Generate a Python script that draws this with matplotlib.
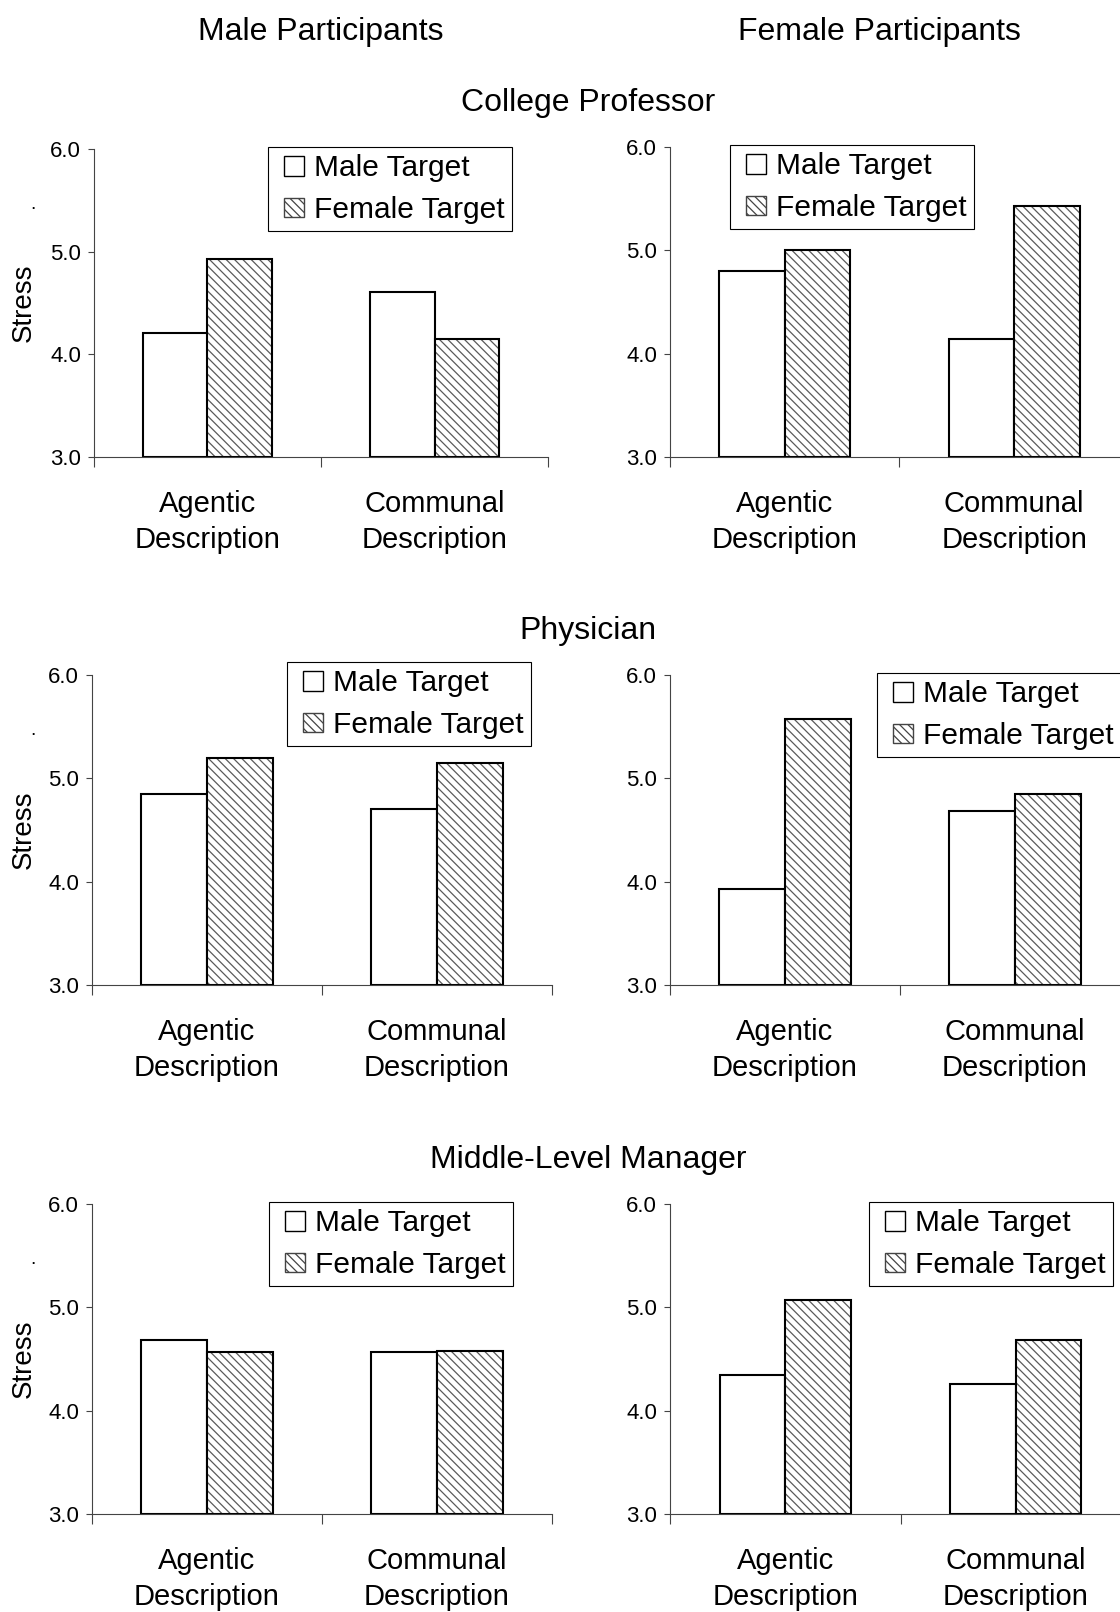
# Stress ratings by description type, target sex and participant sex

import numpy as np
import matplotlib.pyplot as plt
from matplotlib.patches import Patch, Rectangle
from matplotlib.legend_handler import HandlerPatch

plt.rcParams['font.family'] = ['Liberation Sans', 'DejaVu Sans']
plt.rcParams['hatch.linewidth'] = 0.9

# data
categories = ["Agentic\nDescription", "Communal\nDescription"]
col_titles = ["Male Participants", "Female Participants"]
row_titles = ["College Professor", "Physician", "Middle-Level Manager"]
series = ["Male Target", "Female Target"]
yticks = [3.0, 4.0, 5.0, 6.0]

prof_mp_male = [4.21, 4.61]
prof_mp_female = [4.93, 4.15]
prof_fp_male = [4.80, 4.14]
prof_fp_female = [5.00, 5.43]

phys_mp_male = [4.85, 4.70]
phys_mp_female = [5.20, 5.15]
phys_fp_male = [3.93, 4.68]
phys_fp_female = [5.57, 4.85]

mgr_mp_male = [4.68, 4.57]
mgr_mp_female = [4.57, 4.58]
mgr_fp_male = [4.35, 4.26]
mgr_fp_female = [5.07, 4.68]

W, H = 1120, 1612
fig = plt.figure(figsize=(W / 100, H / 100), dpi=100)

HATCH = '\\\\\\\\'
bw = 0.285


def square_patch(legend, orig_handle, xdescent, ydescent, width, height, fontsize):
    # square handle pushed to the right end of the handle box
    return Rectangle((-xdescent + width - height, -ydescent), height, height)


def px_axes(l, t, r, b):
    return fig.add_axes([l / W, 1 - b / H, (r - l) / W, (b - t) / H])


def draw_panel(ax, male, female, leg_xy):
    x = np.arange(len(categories)) + 0.5
    male = np.array(male)
    female = np.array(female)
    ax.bar(x - bw / 2, male - 3, bw, bottom=3, facecolor='white',
           edgecolor='black', linewidth=1.5)
    # hatch drawn in grey, outline drawn on top in black
    ax.bar(x + bw / 2, female - 3, bw, bottom=3, facecolor='white',
           edgecolor='#5a5a5a', linewidth=0, hatch=HATCH)
    ax.bar(x + bw / 2, female - 3, bw, bottom=3, fill=False,
           edgecolor='black', linewidth=1.5)

    ax.set_xlim(0, len(categories))
    ax.set_ylim(3, 6)
    ax.set_yticks(yticks)
    ax.set_yticklabels(["%.1f" % v for v in yticks], fontsize=16)
    ax.set_xticks(x)
    ax.set_xticklabels(categories, fontsize=21, linespacing=1.35)
    ax.set_xticks(np.arange(len(categories) + 1), minor=True)
    ax.tick_params(axis='x', which='major', length=0, pad=24)
    ax.tick_params(axis='x', which='minor', length=7, width=0.8,
                   direction='out', color='#444444')
    ax.tick_params(axis='y', length=4.3, width=0.8, direction='out',
                   color='#444444', pad=5)
    for s in ['top', 'right']:
        ax.spines[s].set_visible(False)
    for s in ['left', 'bottom']:
        ax.spines[s].set_color('#444444')
        ax.spines[s].set_linewidth(0.8)

    handles = [Patch(facecolor='white', edgecolor='black', linewidth=1.0),
               Patch(facecolor='white', edgecolor='#444444', linewidth=1.0,
                     hatch=HATCH)]
    hmap = {h: HandlerPatch(patch_func=square_patch) for h in handles}
    leg = ax.legend(handles, series, loc='upper left',
                    bbox_to_anchor=(leg_xy[0] / W, 1 - leg_xy[1] / H),
                    bbox_transform=fig.transFigure, fontsize=21.5,
                    frameon=True, fancybox=False, framealpha=1,
                    edgecolor='black', handlelength=0.95, handleheight=0.62,
                    handletextpad=0.35, borderpad=0.25, labelspacing=0.45,
                    borderaxespad=0, handler_map=hmap)
    leg.get_frame().set_linewidth(0.8)


panels = [
    ((94, 149, 548, 457), prof_mp_male, prof_mp_female, (268, 147)),
    ((670, 147, 1129, 457), prof_fp_male, prof_fp_female, (730, 145)),
    ((92, 675, 552, 985), phys_mp_male, phys_mp_female, (287, 662)),
    ((670, 675, 1130, 985), phys_fp_male, phys_fp_female, (877, 673)),
    ((92, 1204, 552, 1514), mgr_mp_male, mgr_mp_female, (269, 1202)),
    ((670, 1204, 1131, 1514), mgr_fp_male, mgr_fp_female, (869, 1202)),
]

for i, (box, m, f, lg) in enumerate(panels):
    ax = px_axes(*box)
    draw_panel(ax, m, f, lg)
    if i % 2 == 0:
        yc = (box[1] + box[3]) / 2
        fig.text(24 / W, 1 - yc / H, "Stress", rotation=90, fontsize=20,
                 ha='center', va='center')
        fig.text(33 / W, 1 - (box[1] + 60) / H, ".", fontsize=14,
                 ha='center', va='baseline')

# titles
fig.text(321 / W, 1 - 32 / H, col_titles[0], fontsize=23, ha='center', va='center')
fig.text(879 / W, 1 - 32 / H, col_titles[1], fontsize=23, ha='center', va='center')
for t, y in zip(row_titles, [103, 631, 1160]):
    fig.text(588 / W, 1 - y / H, t, fontsize=23, ha='center', va='center')

plt.savefig("out.png", dpi=100)
